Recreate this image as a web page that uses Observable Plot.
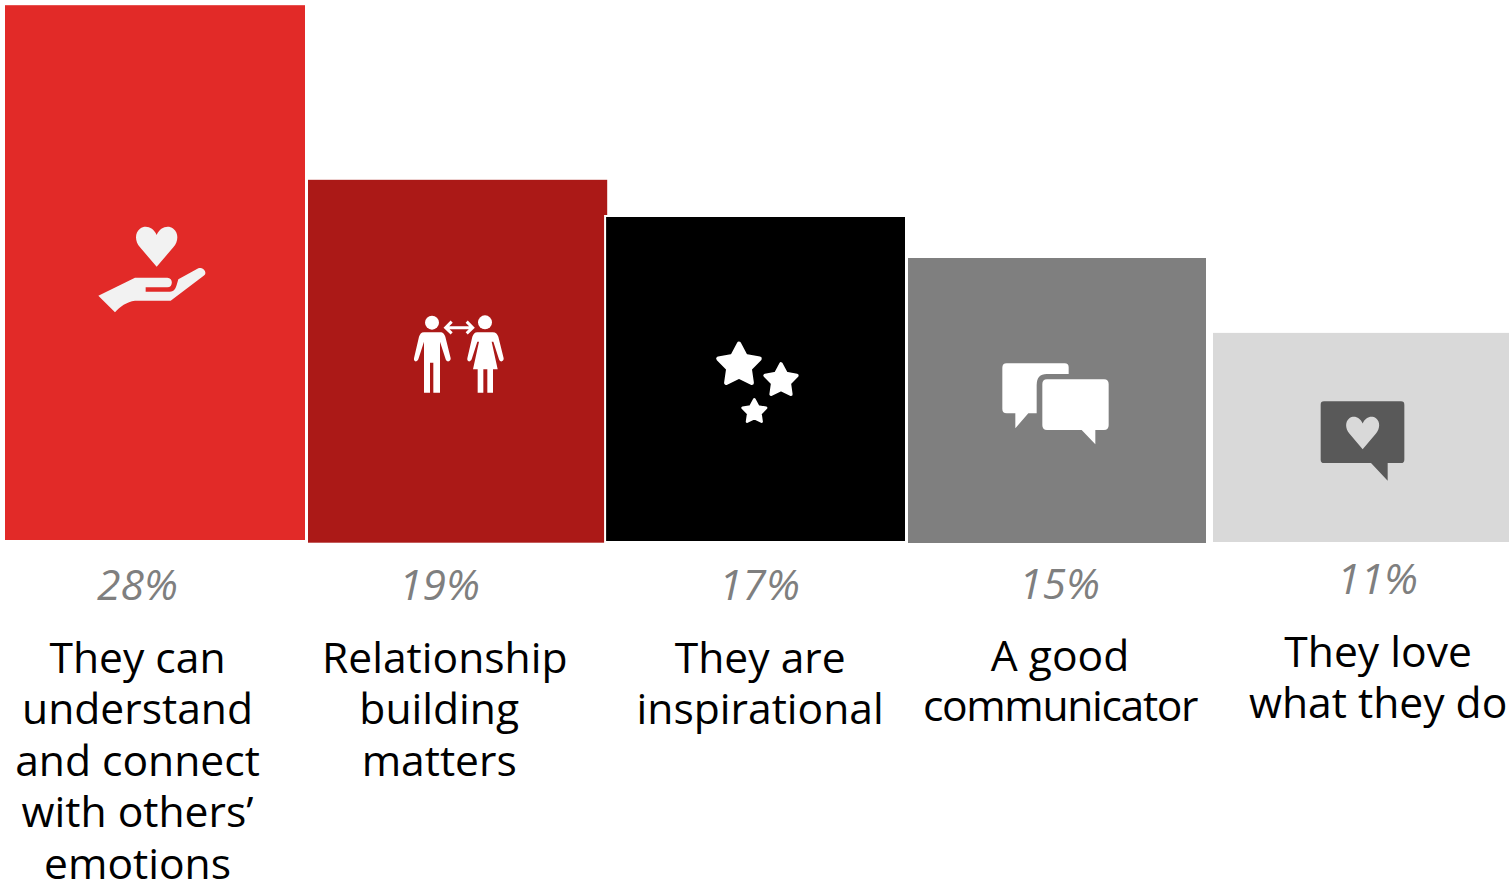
<!DOCTYPE html>
<html>
<head>
<meta charset="utf-8">
<script src="https://cdn.jsdelivr.net/npm/d3@7"></script>
<script src="https://cdn.jsdelivr.net/npm/@observablehq/plot@0.6"></script>
<style>
  html, body { margin: 0; padding: 0; background: #fff; overflow: hidden; }
  svg { display: block; }
</style>
</head>
<body>
<div id="chart"></div>
<script>
// Share of respondents naming each trait
const categories = ["emotions", "relationships", "inspiration", "communication", "passion"];
const shares = [28, 19, 17, 15, 11];
const shareLabels = ["28%", "19%", "17%", "15%", "11%"];
const captions = [
  "They can\nunderstand\nand connect\nwith others’\nemotions",
  "\u00A0Relationship\nbuilding\nmatters",
  "They are\ninspirational",
  "A good\ncommunicator",
  "They love\nwhat they do"
];
const barColors = ["#E22A28", "#AB1917", "#000000", "#7F7F7F", "#D9D9D9"];

// Per-bar layout adjustments, applied to the marks rather than to the data
const barLayout = [
  { left: 0, right: 0.8, bottomGap: 2.7, topTrim: 0, outline: false, labelDx: -18.4, pctDx: -18.4, rowDy: 0, leading: 51.5 },
  { left: 2.2, right: -0.6, bottomGap: 0, topTrim: 0, outline: false, labelDx: -17.5, pctDx: -17.2, rowDy: 0, leading: 51.5 },
  { left: -1.5, right: 1.4, bottomGap: 0.7, topTrim: -1.3, outline: true, labelDx: 2.7, pctDx: 2, rowDy: 0, leading: 51.5 },
  { left: -0.4, right: 1.2, bottomGap: -1.3, topTrim: -0.5, outline: true, labelDx: 1.7, pctDx: 1.2, rowDy: -1, leading: 50 },
  { left: 4.8, right: 0, bottomGap: 0.7, topTrim: 1, outline: false, labelDx: 19, pctDx: 18.4, rowDy: -6, leading: 51.5 }
];

const rows = categories.map((category, i) => ({
  category, share: shares[i], label: shareLabels[i], caption: captions[i], color: barColors[i]
}));

const FONT = "'Open Sans', sans-serif";

// Icon artwork, drawn in a local grid three times the page scale
function heart(cx, top, w, h) {
  const k = w / 125, m = h / 120;
  const X = d => cx + d * k, Y = d => top + d * m;
  return `M${X(0)} ${Y(120)}L${X(-50)} ${Y(62)}C${X(-66)} ${Y(43)} ${X(-66)} ${Y(18)} ${X(-50)} ${Y(6)}` +
    `C${X(-33)} ${Y(-6)} ${X(-10)} ${Y(2)} ${X(0)} ${Y(25)}C${X(10)} ${Y(2)} ${X(33)} ${Y(-6)} ${X(50)} ${Y(6)}` +
    `C${X(66)} ${Y(18)} ${X(66)} ${Y(43)} ${X(50)} ${Y(62)}Z`;
}

function star(cx, cy, outer) {
  const pts = d3.range(10).map(i => {
    const r = i % 2 ? outer * 0.52 : outer;
    const a = -Math.PI / 2 + i * Math.PI / 5;
    return [cx + r * Math.cos(a), cy + r * Math.sin(a)];
  });
  return "M" + pts.map(p => p.join(" ")).join("L") + "Z";
}

const iconArt = [
  {
    offset: [-75.4, 210],
    shapes: [
      { d: heart(230, 50, 125, 120), fill: "#F2F2F2" },
      { d: "M55 257L165 203L262 203C280 203 280 232 262 232L197 232L197 245L270 245C280 245 285 240 290 225L295 208L355 175C370 168 385 190 370 198L272 272L165 272C140 275 120 290 105 307Z", fill: "#F2F2F2" }
    ]
  },
  {
    offset: [-56.2, 300],
    shapes: [
      { d: "M75 68a21 21 0 1 0 42 0a21 21 0 1 0 -42 0Z", fill: "#fff" },
      { d: "M72 97L120 97C130 97 133 103 136 110L152 175C153 185 140 188 137 178L120 125L120 278L100 278L100 188L90 188L90 278L72 278L72 125L55 178C50 188 40 185 42 175L57 110C60 103 63 97 72 97Z", fill: "#fff" },
      { d: "M234 67a21 21 0 1 0 42 0a21 21 0 1 0 -42 0Z", fill: "#fff" },
      { d: "M232 97L278 97C288 97 292 103 295 110L311 175C312 185 300 188 297 178L280 125L275 125L293 208L279 208L279 278L262 278L262 208L250 208L250 278L233 278L233 208L219 208L237 125L232 125L215 178C210 188 200 185 202 175L217 110C220 103 224 97 232 97Z", fill: "#fff" },
      { d: "M138 83L218 83M155 65L137 83L155 100M200 65L218 83L200 100", fill: "none", stroke: "#fff", strokeWidth: 9 }
    ]
  },
  {
    offset: [-57, 330],
    shapes: [
      { d: star(117, 106, 65), fill: "#fff", stroke: "#fff", strokeWidth: 13, join: "round" },
      { d: star(243, 152, 50), fill: "#fff", stroke: "#fff", strokeWidth: 11, join: "round" },
      { d: star(163, 245, 37), fill: "#fff", stroke: "#fff", strokeWidth: 8, join: "round" }
    ]
  },
  {
    offset: [-67.8, 350],
    shapes: [
      { d: "M50 40L224 40Q236 40 236 52L236 72L170 72Q140 72 140 105L140 190L115 190L76 235L76 190L50 190Q37 190 37 177L37 53Q37 40 50 40Z", fill: "#fff" },
      { d: "M171 88L342 88Q356 88 356 102L356 226Q356 240 342 240L316 240L316 283L275 240L171 240Q157 240 157 226L157 102Q157 88 171 88Z", fill: "#fff" }
    ]
  },
  {
    offset: [-53.6, 390],
    shapes: [
      { d: "M57 34L288 34Q298 34 298 44L298 209Q298 219 288 219L248 219L248 272L198 219L57 219Q47 219 47 209L47 44Q47 34 57 34Z", fill: "#595959" },
      { d: heart(173, 80, 100, 98), fill: "#D9D9D9" }
    ]
  }
];

// One bar per category, layered so later bars sit over earlier ones
const barMarks = rows.map((row, i) => {
  const b = barLayout[i];
  return Plot.barY([row], {
    x: "category",
    y: "share",
    fill: "color",
    stroke: b.outline ? "#fff" : "none",
    strokeWidth: b.outline ? 2 : 0,
    insetLeft: b.left,
    insetRight: b.right,
    insetTop: b.topTrim,
    dy: -b.bottomGap
  });
});

const pctMarks = rows.map((row, i) => {
  const b = barLayout[i];
  return Plot.text([row], {
    x: "category",
    frameAnchor: "top",
    text: "label",
    dx: b.pctDx,
    dy: 586 + b.rowDy,
    lineAnchor: "middle",
    fill: "#7F7F7F",
    fontFamily: FONT,
    fontSize: 42.6,
    fontStyle: "italic"
  });
});

const captionMarks = rows.map((row, i) => {
  const b = barLayout[i];
  return Plot.text([row], {
    x: "category",
    frameAnchor: "top",
    text: "caption",
    dx: b.labelDx,
    dy: 635.6 + b.rowDy,
    lineAnchor: "top",
    lineHeight: b.leading / 42.6,
    fill: "#000",
    fontFamily: FONT,
    fontSize: 42.6
  });
});

// Pictograms placed relative to the centre of each bar
function iconMark(index, scales) {
  const g = d3.create("svg:g").attr("class", "icons");
  categories.forEach((category, i) => {
    const art = iconArt[i];
    const cx = scales.x(category) + scales.x.bandwidth() / 2;
    const icon = g.append("g")
      .attr("transform", `translate(${cx + art.offset[0]},${art.offset[1]}) scale(${1 / 3})`);
    art.shapes.forEach(s => {
      icon.append("path")
        .attr("d", s.d)
        .attr("fill", s.fill)
        .attr("stroke", s.stroke || "none")
        .attr("stroke-width", s.strokeWidth || 0)
        .attr("stroke-linejoin", s.join || "miter");
    });
  });
  return g.node();
}

const chart = Plot.plot({
  width: 1509,
  height: 880,
  margin: 0,
  style: { background: "#fff", overflow: "hidden" },
  x: { type: "band", domain: categories, range: [5, 1509], padding: 0, round: false, axis: null },
  y: { domain: [0, 28], range: [542.7, 542.7 - 28 * 19.1], axis: null },
  marks: [...barMarks, ...pctMarks, ...captionMarks, iconMark]
});

// The longest caption word is set slightly tighter to fit under its bar
d3.select(chart).selectAll("tspan")
  .filter(function () { return this.textContent === "communicator"; })
  .attr("letter-spacing", -1.33);

document.getElementById("chart").append(chart);
</script>
</body>
</html>
